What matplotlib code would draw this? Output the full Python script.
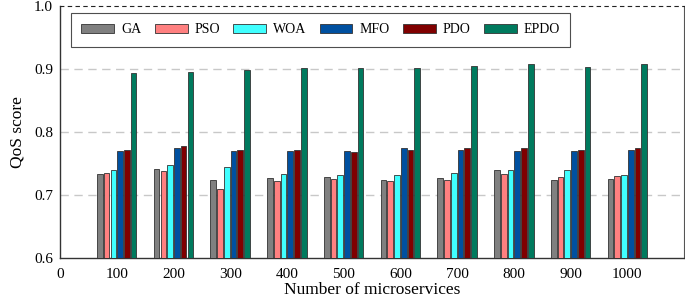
import matplotlib
matplotlib.use("Agg")
import matplotlib.pyplot as plt
import numpy as np

plt.rcParams['font.family'] = ['Liberation Serif', 'DejaVu Serif']

sizes = [100, 200, 300, 400, 500, 600, 700, 800, 900, 1000]
algorithms = ["GA", "PSO", "WOA", "MFO", "PDO", "EPDO"]
GA   = [0.733, 0.742, 0.724, 0.727, 0.728, 0.724, 0.727, 0.740, 0.724, 0.726]
PSO  = [0.735, 0.738, 0.710, 0.723, 0.725, 0.722, 0.724, 0.734, 0.729, 0.730]
WOA  = [0.739, 0.748, 0.745, 0.733, 0.732, 0.731, 0.735, 0.739, 0.740, 0.732]
MFO  = [0.770, 0.775, 0.770, 0.770, 0.770, 0.775, 0.772, 0.770, 0.770, 0.771]
PDO  = [0.772, 0.778, 0.772, 0.771, 0.768, 0.772, 0.775, 0.774, 0.772, 0.775]
EPDO = [0.893, 0.895, 0.899, 0.901, 0.902, 0.902, 0.905, 0.908, 0.903, 0.908]
series = [GA, PSO, WOA, MFO, PDO, EPDO]
colors = ["#808080", "#ff8080", "#40ffff", "#0050a0", "#800000", "#007a5e"]

fig = plt.figure(figsize=(6.85, 3.0), dpi=100)
ax = fig.add_axes([0.0876, 0.14, 0.911, 0.84])

pitch = 11.9
width = 10.0
x = np.array(sizes, dtype=float)
for i, (name, vals, c) in enumerate(zip(algorithms, series, colors)):
    off = (i - 2.5) * pitch
    ax.bar(x + off, vals, width=width, color=c, edgecolor="#333333",
           linewidth=0.6, label=name, zorder=3)

ax.set_xlim(0, 1100)
ax.set_ylim(0.6, 1.0)
ax.set_xticks([0] + sizes)
ax.set_xticklabels(["0"] + [str(s) for s in sizes])
ax.set_yticks([0.6, 0.7, 0.8, 0.9, 1.0])
ax.set_yticklabels(["0.6", "0.7", "0.8", "0.9", "1.0"])
ax.tick_params(axis="both", length=0, labelsize=11)
ax.tick_params(axis="x", pad=7)
ax.tick_params(axis="y", pad=5)
for yv in [0.7, 0.8, 0.9]:
    ax.axhline(yv, color="#c8c8c8", linestyle=(0, (6, 4)), linewidth=1.0, zorder=1)

ax.spines["top"].set_linestyle((0, (3, 4)))
ax.spines["top"].set_color("#222222")
for s in ["left", "bottom"]:
    ax.spines[s].set_color("#333333")
    ax.spines[s].set_linewidth(1.0)
ax.spines["right"].set_color("#555555")

ax.set_xlabel("Number of microservices", fontsize=12.5, labelpad=1)
ax.set_ylabel("QoS score", fontsize=12.5, labelpad=6)

leg = ax.legend(ncol=6, loc="upper left", bbox_to_anchor=(0.0176, 0.972),
                fontsize=10, frameon=True, fancybox=False, edgecolor="#222222",
                handlelength=2.37, handleheight=0.6, columnspacing=0.95,
                handletextpad=0.5, borderpad=0.75, borderaxespad=0.0)
leg.get_frame().set_linewidth(0.8)

fig.savefig("out.png", dpi=100)
